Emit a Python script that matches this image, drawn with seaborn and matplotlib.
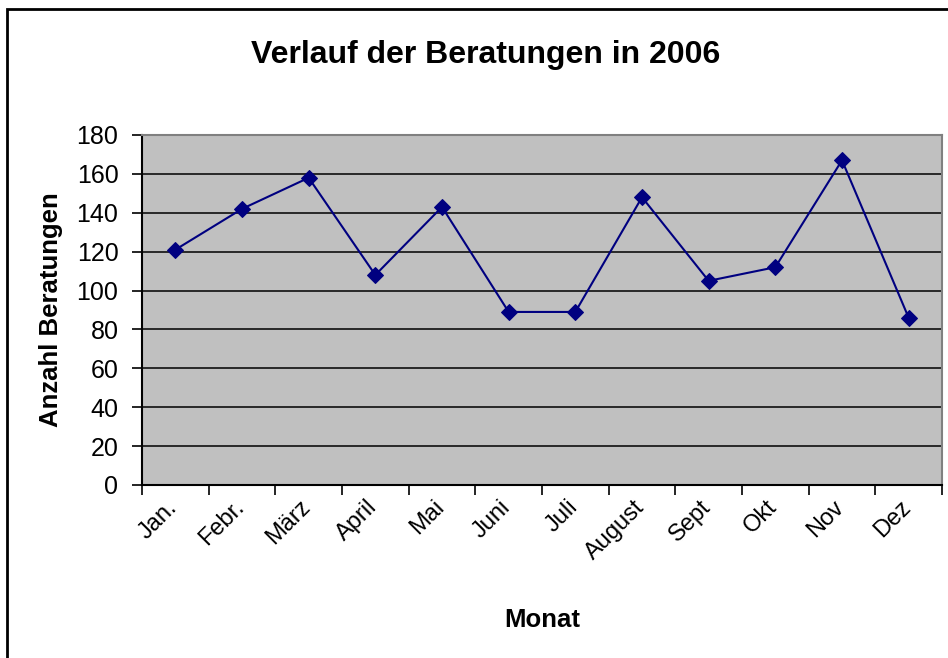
import numpy as np
import pandas as pd
import matplotlib
matplotlib.use("Agg")
import matplotlib.pyplot as plt
import matplotlib.transforms as mtransforms
import seaborn as sns
from matplotlib.patches import Rectangle

months = ["Jan.", "Febr.", "März", "April", "Mai", "Juni",
          "Juli", "August", "Sept", "Okt", "Nov", "Dez"]
beratungen = [121, 142, 158, 108, 143, 89, 89, 148, 105, 112, 167, 86]
y_ticks = [0, 20, 40, 60, 80, 100, 120, 140, 160, 180]

sns.set_style("white")
plt.rcParams["font.family"] = ["Liberation Sans", "DejaVu Sans"]
plt.rcParams["text.color"] = "black"
plt.rcParams["axes.labelcolor"] = "black"
plt.rcParams["xtick.color"] = "black"
plt.rcParams["ytick.color"] = "black"

df = pd.DataFrame({"Monat": np.arange(len(months)), "Anzahl": beratungen})

fig = plt.figure(figsize=(9.48, 6.58), dpi=100)
ax = fig.add_axes([142 / 948, 1 - 485 / 658, 800 / 948, 350 / 658])
ax.set_facecolor("#C0C0C0")

sns.lineplot(data=df, x="Monat", y="Anzahl", ax=ax, color="#000080",
             linewidth=1.5, marker="D", markersize=8,
             markeredgecolor="#000080", zorder=3)

ax.set_xlim(-0.5, len(months) - 0.5)
ax.set_ylim(0, 180)
ax.set_yticks(y_ticks)
ax.yaxis.grid(True, color="black", linewidth=1.1)
ax.set_axisbelow(True)

# labels centered on categories, ticks between categories
ax.set_xticks(np.arange(len(months)))
ax.set_xticklabels(months, rotation=45, ha="right", rotation_mode="anchor")
ax.set_xticks(np.arange(len(months) + 1) - 0.5, minor=True)
ax.tick_params(axis="x", which="major", bottom=True, length=0, pad=8,
               labelsize=17, labelcolor="black")
ax.tick_params(axis="x", which="minor", bottom=True, length=7, width=1.2,
               color="black", direction="out")
ax.tick_params(axis="y", left=True, length=7, width=1.2, color="black",
               direction="out", pad=10, labelsize=18, labelcolor="black")

shift = mtransforms.ScaledTranslation(-9 / 100, 0, fig.dpi_scale_trans)
for lbl in ax.get_xticklabels():
    lbl.set_transform(lbl.get_transform() + shift)

for side in ["left", "bottom"]:
    ax.spines[side].set_color("black")
    ax.spines[side].set_linewidth(1.5)
for side in ["top", "right"]:
    ax.spines[side].set_color("#808080")
    ax.spines[side].set_linewidth(1.5)

ax.set_xlabel("Monat", fontsize=18.5, fontweight="bold", color="black")
ax.xaxis.set_label_coords(0.5, -0.351)
ax.set_ylabel("Anzahl Beratungen", fontsize=18.5, fontweight="bold",
              color="black")
ax.yaxis.set_label_coords(-0.099, 0.5)

fig.text(486 / 948, 1 - 55 / 658, "Verlauf der Beratungen in 2006",
         ha="center", va="center", fontsize=23, fontweight="bold",
         color="black")

fig.patches.append(Rectangle((7 / 948, -0.1), 1.2, 1 - 9 / 658 + 0.1,
                             transform=fig.transFigure, fill=False,
                             edgecolor="black", linewidth=2))

fig.savefig("out.png", dpi=100)
